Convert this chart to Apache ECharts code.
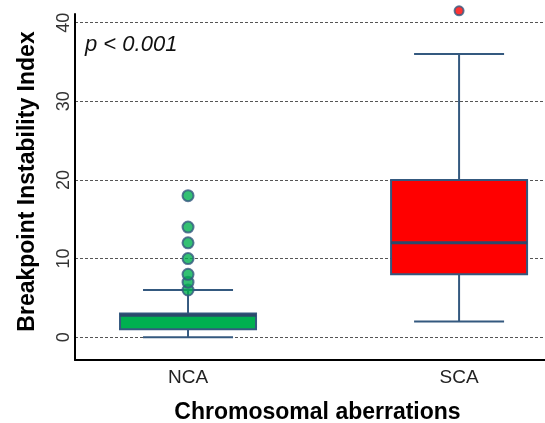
<!DOCTYPE html>
<html>
<head>
<meta charset="utf-8">
<script src="https://cdn.jsdelivr.net/npm/echarts@6/dist/echarts.min.js"></script>
<style>
  html, body { margin: 0; padding: 0; background: #fff; }
  #chart { width: 545px; height: 423px; }
</style>
</head>
<body>
<div id="chart"></div>
<script>
// groups on the x axis
var categories = ['NCA', 'SCA'];
// five-number summary per group
var lowerWhisker = [0, 2];
var q1 = [1, 8];
var median = [2.8, 12];
var q3 = [3, 20];
var upperWhisker = [6, 36];
// outliers per group
var ncaOutliers = [6, 7, 8, 10, 12, 14, 18];
var scaOutliers = [41.5];
var yTicks = [0, 10, 20, 30, 40];

var boxFill = ['#00b050', '#ff0000'];
var edge = '#34597f';

var boxRows = categories.map(function (c, i) {
  return [i + 1, lowerWhisker[i], q1[i], median[i], q3[i], upperWhisker[i]];
});

function renderBox(params, api) {
  var x = api.value(0);
  var i = params.dataIndex;
  var lo = api.coord([x, api.value(1)]);
  var b1 = api.coord([x, api.value(2)]);
  var md = api.coord([x, api.value(3)]);
  var b3 = api.coord([x, api.value(4)]);
  var hi = api.coord([x, api.value(5)]);
  var cx = lo[0];
  var hb = 68, hw = 45;
  var ln = { stroke: edge, lineWidth: 2 };
  return {
    type: 'group',
    children: [
      { type: 'line', shape: { x1: cx, y1: b1[1], x2: cx, y2: lo[1] }, style: ln },
      { type: 'line', shape: { x1: cx, y1: b3[1], x2: cx, y2: hi[1] }, style: ln },
      { type: 'line', shape: { x1: cx - hw, y1: lo[1], x2: cx + hw, y2: lo[1] }, style: ln },
      { type: 'line', shape: { x1: cx - hw, y1: hi[1], x2: cx + hw, y2: hi[1] }, style: ln },
      { type: 'rect', shape: { x: cx - hb, y: b3[1], width: hb * 2, height: b1[1] - b3[1] },
        style: { fill: boxFill[i], stroke: edge, lineWidth: 2 } },
      { type: 'line', shape: { x1: cx - hb, y1: md[1], x2: cx + hb, y2: md[1] },
        style: { stroke: '#2b4a6b', lineWidth: 3 } }
    ]
  };
}

var chart = echarts.init(document.getElementById('chart'));
chart.setOption({
  animation: false,
  grid: { left: 75, right: 0, top: 14, bottom: 63, containLabel: false, outerBoundsMode: 'none' },
  xAxis: {
    type: 'value',
    min: 0.583,
    max: 2.317,
    name: 'Chromosomal aberrations',
    nameLocation: 'middle',
    nameGap: 41,
    nameTextStyle: { fontFamily: 'Liberation Sans', fontWeight: 'bold', fontSize: 23, color: '#000', padding: [0, 0, 0, 15] },
    axisLine: { onZero: false, lineStyle: { color: '#000', width: 2 } },
    axisTick: { show: false },
    splitLine: { show: false },
    axisLabel: {
      customValues: [1, 2],
      margin: 8,
      fontFamily: 'Liberation Sans',
      fontSize: 19,
      color: '#222',
      formatter: function (v) { return categories[Math.round(v) - 1] || ''; }
    }
  },
  yAxis: {
    type: 'value',
    min: -2.9,
    max: 41.1,
    name: 'Breakpoint Instability Index',
    nameLocation: 'middle',
    nameGap: 36,
    nameTextStyle: { fontFamily: 'Liberation Sans', fontWeight: 'bold', fontSize: 23, color: '#000', padding: [0, 0, 0, 11] },
    axisLine: { show: true, onZero: false, lineStyle: { color: '#000', width: 2 } },
    axisTick: { show: false },
    axisLabel: {
      customValues: yTicks,
      rotate: 90,
      margin: 2,
      fontFamily: 'Liberation Sans',
      fontSize: 18,
      color: '#333'
    },
    splitLine: {
      show: true,
      showMinLine: false,
      showMaxLine: false,
      lineStyle: { color: '#555', type: [3, 2], width: 1 }
    }
  },
  graphic: [{
    type: 'text',
    left: 85,
    top: 34,
    style: { text: 'p < 0.001', font: 'italic 22px "Liberation Sans"', fill: '#111' }
  }],
  series: [
    {
      type: 'custom',
      renderItem: renderBox,
      encode: { x: 0, y: [1, 2, 3, 4, 5] },
      data: boxRows,
      clip: false,
      z: 2
    },
    {
      type: 'scatter',
      symbolSize: 11,
      clip: false,
      itemStyle: { color: '#00b050', borderColor: edge, borderWidth: 2 },
      data: ncaOutliers.map(function (v) { return [1, v]; }),
      z: 3
    },
    {
      type: 'scatter',
      symbolSize: 9,
      clip: false,
      itemStyle: { color: '#ff0000', borderColor: edge, borderWidth: 2 },
      data: scaOutliers.map(function (v) { return [2, v]; }),
      z: 3
    }
  ]
});
</script>
</body>
</html>
